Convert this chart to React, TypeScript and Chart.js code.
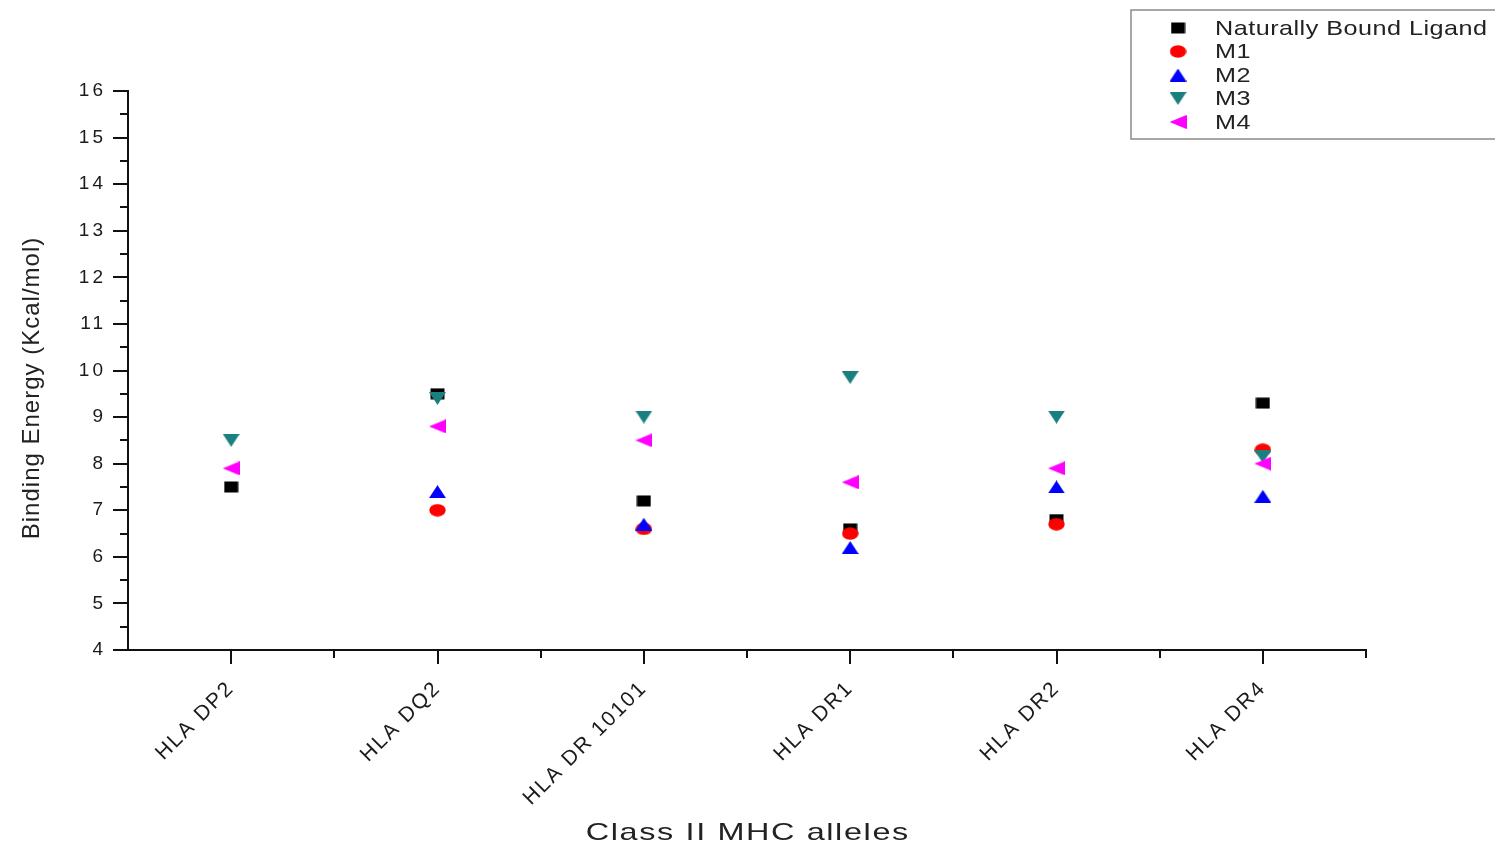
import React, { useEffect, useRef } from 'react';
import { Chart, registerables } from 'chart.js';
import { drawPoint } from 'chart.js/helpers';

Chart.register(...registerables);

const categories = ['HLA DP2', 'HLA DQ2', 'HLA DR 10101', 'HLA DR1', 'HLA DR2', 'HLA DR4'];
const naturallyBound = [7.5, 9.5, 7.2, 6.6, 6.8, 9.3];
const m1 = [null, 7.0, 6.6, 6.5, 6.7, 8.3];
const m2 = [null, 7.4, 6.7, 6.2, 7.5, 7.3];
const m3 = [8.5, 9.4, 9.0, 9.85, 9.0, 8.15];
const m4 = [7.9, 8.8, 8.5, 7.6, 7.9, 8.0];
const yMin = 4;
const yMax = 16;
const xTitle = 'Class II MHC alleles';
const yTitle = 'Binding Energy (Kcal/mol)';

const seriesNames = ['Naturally Bound Ligand', 'M1', 'M2', 'M3', 'M4'];
const seriesColors = ['#000000', '#ff0000', '#0000ff', '#1a7f7f', '#ff00ff'];
const seriesShapes = ['square', 'ellipse', 'up', 'down', 'left'];
const seriesData = [naturallyBound, m1, m2, m3, m4];

function makeMarker(shape: string, color: string): HTMLCanvasElement {
  const c = document.createElement('canvas');
  let w = 17, h = 13;
  if (shape === 'square') { w = 15; h = 12; }
  if (shape === 'ellipse') { w = 17; h = 13; }
  if (shape === 'left') { w = 17; h = 14; }
  c.width = w;
  c.height = h;
  const g = c.getContext('2d')!;
  g.fillStyle = color;
  g.beginPath();
  if (shape === 'square') {
    g.rect(0.5, 0.5, w - 1, h - 1);
  } else if (shape === 'ellipse') {
    g.ellipse(w / 2, h / 2, w / 2 - 0.3, h / 2 - 0.3, 0, 0, Math.PI * 2);
  } else if (shape === 'up') {
    g.moveTo(w / 2, 0);
    g.lineTo(w, h);
    g.lineTo(0, h);
  } else if (shape === 'down') {
    g.moveTo(0, 0);
    g.lineTo(w, 0);
    g.lineTo(w / 2, h);
  } else {
    g.moveTo(0, h / 2);
    g.lineTo(w, 0);
    g.lineTo(w, h);
  }
  g.closePath();
  g.fill();
  return c;
}

const labelSpacing: Record<string, string> = { x: '2px', y: '3px' };

const decor = {
  id: 'decor',
  beforeDraw(chart: any) {
    chart.ctx.letterSpacing = '0px';
    Object.values(chart.scales).forEach((scale: any) => {
      if (scale.__wrapped) return;
      const orig = scale.drawLabels;
      scale.drawLabels = function (ca: any) {
        const c = this.ctx;
        c.save();
        c.letterSpacing = labelSpacing[this.id] || '0px';
        orig.call(this, ca);
        c.restore();
      };
      scale.__wrapped = true;
    });
  },
  afterDraw(chart: any) {
    const ctx = chart.ctx;
    const xs = chart.scales.x;
    const ys = chart.scales.y;
    const left = chart.chartArea.left;
    const bottom = chart.chartArea.bottom;
    ctx.save();
    ctx.letterSpacing = '0px';
    ctx.strokeStyle = '#111';
    ctx.lineWidth = 2;
    ctx.beginPath();
    for (let v = yMin; v <= yMax + 1e-9; v += 0.5) {
      const py = Math.round(ys.getPixelForValue(v));
      const len = Math.abs(v - Math.round(v)) < 1e-6 ? 15 : 8;
      ctx.moveTo(left - len, py);
      ctx.lineTo(left, py);
    }
    for (let i = 0; i < categories.length; i++) {
      const px = Math.round(xs.getPixelForValue(i));
      ctx.moveTo(px, bottom);
      ctx.lineTo(px, bottom + 14);
      const pb = Math.round(xs.getPixelForValue(i + 0.5));
      ctx.moveTo(pb, bottom);
      ctx.lineTo(pb, bottom + 8);
    }
    ctx.stroke();

    // axis titles
    ctx.fillStyle = '#222';
    ctx.textAlign = 'center';
    ctx.textBaseline = 'middle';
    ctx.save();
    ctx.translate((chart.chartArea.left + chart.chartArea.right) / 2, 833);
    ctx.scale(1.35, 1);
    ctx.font = '24px "Liberation Sans"';
    ctx.letterSpacing = '1.2px';
    ctx.fillText(xTitle, 0.6, 0);
    ctx.restore();

    ctx.save();
    ctx.translate(32, 388);
    ctx.rotate(-Math.PI / 2);
    ctx.font = '24px "Liberation Sans"';
    ctx.letterSpacing = '1px';
    ctx.fillText(yTitle, 0, 0);
    ctx.restore();

    // legend
    ctx.lineWidth = 1.5;
    ctx.strokeStyle = '#8a8a8a';
    ctx.strokeRect(1131, 10, 380, 129);
    for (let i = 0; i < seriesNames.length; i++) {
      const cy = 28 + i * 23.5;
      drawPoint(ctx, { pointStyle: markers[i], rotation: 0, radius: 8, borderWidth: 0 }, 1178, cy);
      ctx.save();
      ctx.translate(1215, cy + 1);
      ctx.scale(1.2, 1);
      ctx.font = '21px "Liberation Sans"';
      ctx.letterSpacing = '0.4px';
      ctx.textAlign = 'left';
      ctx.textBaseline = 'middle';
      ctx.fillStyle = '#222';
      ctx.fillText(seriesNames[i], 0, 0);
      ctx.restore();
    }
    ctx.restore();
  },
};

let markers: HTMLCanvasElement[] = [];

export default function App() {
  const ref = useRef<HTMLCanvasElement | null>(null);
  useEffect(() => {
    document.body.style.margin = '0';
    if (!ref.current) return;
    markers = seriesShapes.map((s, i) => makeMarker(s, seriesColors[i]));
    const datasets = seriesNames.map((name, i) => ({
      label: name,
      data: seriesData[i],
      showLine: false,
      pointStyle: markers[i],
      pointRadius: 8,
      pointHoverRadius: 8,
      backgroundColor: seriesColors[i],
      borderColor: seriesColors[i],
      borderWidth: 0,
      order: seriesNames.length - i,
    }));
    const chart = new Chart(ref.current, {
      type: 'line',
      data: { labels: categories, datasets },
      options: {
        animation: false,
        responsive: true,
        maintainAspectRatio: false,
        layout: { padding: { top: 91, right: 129, left: 0, bottom: 0 } },
        plugins: { legend: { display: false }, tooltip: { enabled: false }, title: { display: false } },
        scales: {
          x: {
            type: 'category',
            offset: true,
            grid: { display: false, drawTicks: false, tickLength: 0 },
            border: { display: true, color: '#111', width: 2 },
            ticks: {
              autoSkip: false,
              minRotation: 45,
              maxRotation: 45,
              padding: 26,
              color: '#1a1a1a',
              font: { family: 'Liberation Sans', size: 21 },
            },
            afterFit: (s: any) => { s.height = 200; },
          },
          y: {
            type: 'linear',
            min: yMin,
            max: yMax,
            grid: { display: false, drawTicks: false, tickLength: 0 },
            border: { display: true, color: '#111', width: 2 },
            ticks: {
              stepSize: 1,
              padding: 22,
              color: '#1a1a1a',
              font: { family: 'Liberation Sans', size: 19 },
            },
            afterFit: (s: any) => { s.width = 128; },
          },
        },
      },
      plugins: [decor],
    });
    return () => chart.destroy();
  }, []);
  return (
    <div style={{ position: 'relative', width: '1495px', height: '850px' }}>
      <canvas ref={ref} />
    </div>
  );
}
